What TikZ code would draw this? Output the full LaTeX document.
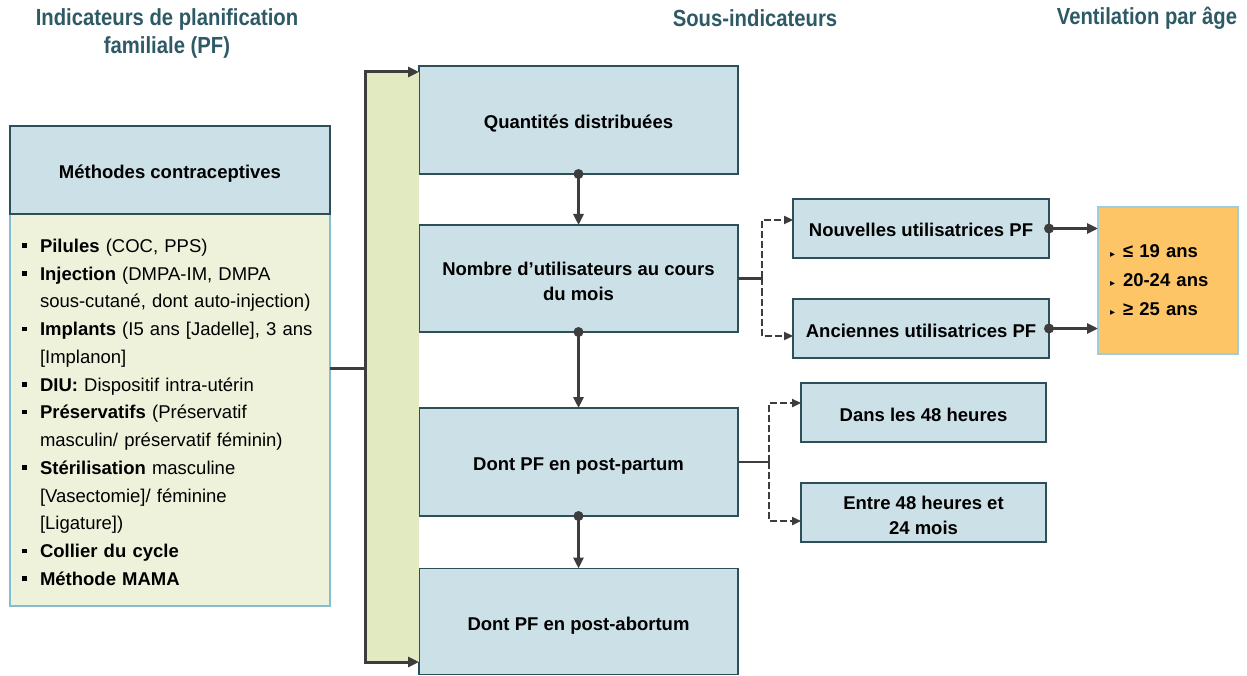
\documentclass[tikz,border=0pt]{standalone}
\usepackage{fontspec}
\setmainfont{Liberation Sans}
\newfontfamily\headfont[FakeStretch=0.87]{Liberation Sans}
\newfontfamily\symfont{DejaVu Sans}
\usetikzlibrary{arrows.meta,calc}

\definecolor{headteal}{HTML}{2E5A66}
\definecolor{boxfill}{HTML}{CBE0E7}
\definecolor{boxline}{HTML}{2D4F59}
\definecolor{listfill}{HTML}{EEF2DB}
\definecolor{listline}{HTML}{86BDD0}
\definecolor{bandfill}{HTML}{E2EAC1}
\definecolor{agefill}{HTML}{FDC566}
\definecolor{ageline}{HTML}{9CCEDF}
\definecolor{conn}{HTML}{3D3D3D}

% list entry with a square bullet and hanging indent
\newcommand{\mitem}[1]{\par\hangindent=18pt\hangafter=1\noindent
  \makebox[18pt][l]{\rule[4.5pt]{4.5pt}{4.5pt}}#1}
% age entry with a small triangle bullet
\newcommand{\aitem}[1]{\makebox[13pt][l]{\symfont\fontsize{10}{10}\selectfont ▸}#1}
% taller first line for two-line box labels
\newcommand{\tallstrut}{\rule{0pt}{18.5pt}}

\tikzset{
  head/.style={text=headteal, align=center,
    font=\headfont\bfseries\fontsize{23.3}{28}\selectfont},
  box/.style={draw=boxline, fill=boxfill, line width=1.8pt, align=center,
    inner sep=0pt, outer sep=0pt,
    font=\bfseries\fontsize{18.5}{25}\selectfont},
  oneline/.style={text height=17pt, text depth=0pt},
  listbox/.style={draw=listline, fill=listfill, line width=1.5pt,
    inner xsep=12pt, inner ysep=0pt, outer sep=0pt, align=left,
    minimum width=320pt, minimum height=392pt, text width=296pt,
    font=\fontsize{18.5}{27.75}\selectfont},
  agebox/.style={draw=ageline, fill=agefill, line width=2pt,
    inner xsep=12pt, inner ysep=0pt, outer sep=0pt, align=left,
    minimum width=140pt, minimum height=147pt, text width=116pt,
    font=\bfseries\fontsize{18.5}{29}\selectfont},
  busline/.style={draw=conn, line width=3pt, line join=miter},
  arrowline/.style={draw=conn, line width=3pt,
    -{Triangle[length=11pt,width=10pt]}},
  dashline/.style={draw=conn, line width=2.6pt, dash pattern=on 7pt off 3pt},
  dasharrow/.style={dashline, -{Triangle[length=9pt,width=8pt]}},
  dotc/.style={fill=conn}
}

\begin{document}
\begin{tikzpicture}[x=1pt,y=-1pt]
\fill[white] (0,0) rectangle (1247,676);
\useasboundingbox (0,0) rectangle (1247,676);

% column headings
\node[head] (h1) at (167,33.5) {Indicateurs de planification\\familiale (PF)};
\node[head] (h2) at (755,18.5) {Sous-indicateurs};
\node[head] (h3) at (1147,18.5) {Ventilation par âge};

% contraceptive methods
\node[listbox] (list) at (170,410) {%
  \mitem{\textbf{Pilules} (COC, PPS)}
  \mitem{\textbf{Injection} (DMPA-IM, DMPA\newline sous-cutané, dont auto-injection)}
  \mitem{\textbf{Implants} (I5 ans [Jadelle], 3 ans\newline [Implanon]}
  \mitem{\textbf{DIU:} Dispositif intra-utérin}
  \mitem{\textbf{Préservatifs} (Préservatif\newline masculin/ préservatif féminin)}
  \mitem{\textbf{Stérilisation} masculine\newline [Vasectomie]/ féminine\newline [Ligature])}
  \mitem{\textbf{Collier du cycle}}
  \mitem{\textbf{Méthode MAMA}}\par\nointerlineskip\vbox to 10pt{}};
\node[box, oneline, minimum width=320pt, minimum height=88pt] (meth) at (170,170)
  {Méthodes contraceptives};

% sub-indicators
\node[box, oneline, minimum width=319pt, minimum height=108pt] (q) at (578.5,120) {Quantités distribuées};
\node[box, minimum width=319pt, minimum height=107pt] (n) at (578.5,278.5) {\tallstrut Nombre d’utilisateurs au cours\\du mois};
\node[box, oneline, minimum width=319pt, minimum height=108pt] (pp) at (578.5,462) {Dont PF en post-partum};
\node[box, oneline, minimum width=319pt, minimum height=106pt] (pa) at (578.5,621.5) {Dont PF en post-abortum};

\node[box, oneline, minimum width=256pt, minimum height=59pt] (nu) at (921,228.5) {Nouvelles utilisatrices PF};
\node[box, oneline, minimum width=256pt, minimum height=59pt] (an) at (921,328.5) {Anciennes utilisatrices PF};
\node[box, oneline, minimum width=245pt, minimum height=59pt] (da) at (923.5,412.5) {Dans les 48 heures};
\node[box, minimum width=245pt, minimum height=59pt] (en) at (923.5,512.5) {\tallstrut Entre 48 heures et\\24 mois};

% age breakdown
\node[agebox] (age) at (1168,280.5) {\aitem{≤ 19 ans}\\\aitem{20-24 ans}\\\aitem{≥ 25 ans}};

% bus from the methods to the sub-indicators
\coordinate (bt) at (365,72);
\coordinate (bb) at (365,662);
\coordinate (bus) at (365,368);
\fill[bandfill] (bt) rectangle (bb -| q.west);
\draw[busline] (list.east |- bus) -- (bus);
\draw[busline, {Triangle[length=11pt,width=10pt]}-{Triangle[length=11pt,width=10pt]}]
  (bt -| q.west) -- (bt) -- (bb) -- (bb -| pa.west);

% chain of sub-indicators
\draw[arrowline] (q.south) -- (n.north);
\draw[arrowline] (n.south) -- (pp.north);
\draw[arrowline] (pp.south) -- (pa.north);
\fill[dotc] (q.south) circle (5pt);
\fill[dotc] (n.south) circle (5pt);
\fill[dotc] (pp.south) circle (5pt);

% new / former users
\coordinate (j1) at ($(n.east)+(24,0)$);
\draw[draw=conn, line width=2.6pt] (n.east) -- (j1);
\draw[dasharrow] (j1) |- ($(nu.west)+(0,-8.5)$);
\draw[dasharrow] (j1) |- ($(an.west)+(0,7.5)$);

% post-partum timing
\coordinate (j2) at ($(pp.east)+(31,0)$);
\draw[draw=conn, line width=2.6pt] (pp.east) -- (j2);
\draw[dasharrow] (j2) |- ($(da.west)+(0,-9.5)$);
\draw[dasharrow] (j2) |- ($(en.west)+(0,8.5)$);

% users to age groups
\draw[arrowline] (nu.east) -- (nu.east -| age.west);
\draw[arrowline] (an.east) -- (an.east -| age.west);
\fill[dotc] (nu.east) circle (5pt);
\fill[dotc] (an.east) circle (5pt);
\end{tikzpicture}
\end{document}
